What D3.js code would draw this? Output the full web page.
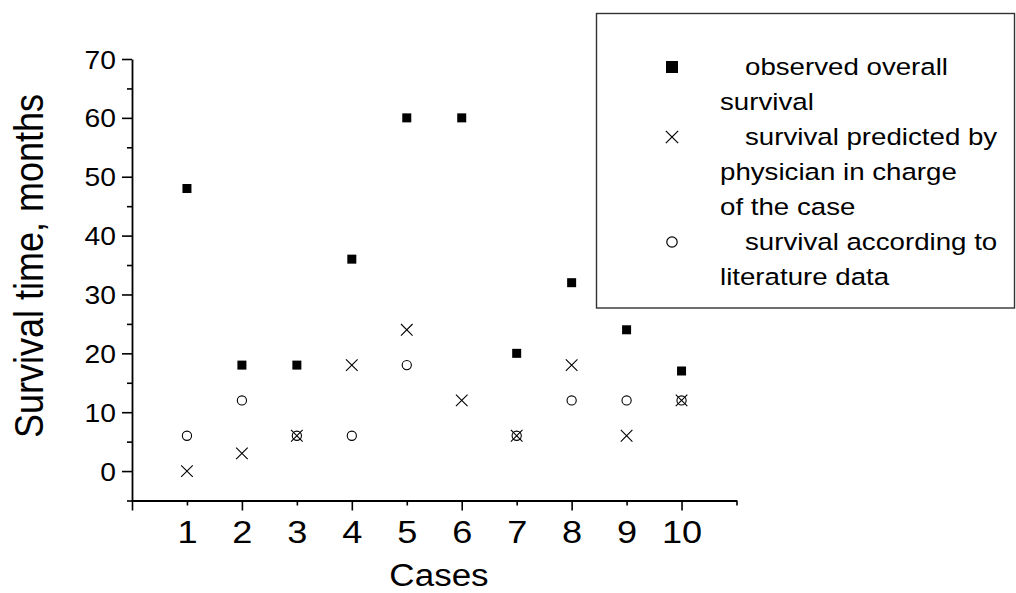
<!DOCTYPE html>
<html>
<head>
<meta charset="utf-8">
<script src="https://cdn.jsdelivr.net/npm/d3@7"></script>
<style>
  html, body { margin: 0; padding: 0; background: #fff; }
  svg { display: block; }
  text { font-family: "Liberation Sans", Arial, sans-serif; fill: #000; }
</style>
</head>
<body>
<svg id="chart" width="1016" height="593"></svg>
<script>
// ---- data ----
const cases = [1, 2, 3, 4, 5, 6, 7, 8, 9, 10];
const observed = [48, 18, 18, 36, 60, 60, 20, 32, 24, 17];
const predicted = [0, 3, 6, 18, 24, 12, 6, 18, 6, 12];
const literature = [6, 12, 6, 6, 18, null, 6, 12, 12, 12];
const xTicks = [0, 1, 2, 3, 4, 5, 6, 7, 8, 9, 10, 11];
const yTicks = [-5, 0, 5, 10, 15, 20, 25, 30, 35, 40, 45, 50, 55, 60, 65, 70];
const legendLines = [
  { text: "observed overall", first: true, symbol: "square" },
  { text: "survival", first: false },
  { text: "survival predicted by", first: true, symbol: "cross" },
  { text: "physician in charge", first: false },
  { text: "of the case", first: false },
  { text: "survival according to", first: true, symbol: "circle" },
  { text: "literature data", first: false }
];
const xTitle = "Cases";
const yTitle = "Survival time, months";

// ---- layout ----
const SX = 1.13; // horizontal text stretch
const svg = d3.select("#chart");
const x = d3.scaleLinear().domain([0, 11]).range([132, 736.5]);
const y = d3.scaleLinear().domain([-5, 70]).range([500.5, 59]);

// X axis
const xAxis = d3.axisBottom(x)
  .tickValues(xTicks)
  .tickSizeOuter(0)
  .tickFormat(d => (d >= 1 && d <= 10) ? d : "");
const gx = svg.append("g").attr("transform", `translate(0,${y(-5)})`).call(xAxis);
gx.select(".domain").attr("stroke", "#000").attr("stroke-width", 1.8);
gx.selectAll(".tick line").attr("stroke", "#000").attr("stroke-width", 1.6)
  .attr("y2", d => d % 2 === 0 ? 10 : 5);
gx.selectAll(".tick text")
  .attr("y", null).attr("dy", null)
  .attr("transform", `translate(0,42) scale(${SX},1)`)
  .style("font-size", "32px")
  .attr("fill", "#000");

// Y axis
const yAxis = d3.axisLeft(y)
  .tickValues(yTicks)
  .tickSizeOuter(0)
  .tickFormat(d => (d >= 0 && d % 10 === 0) ? d : "");
const gy = svg.append("g").attr("transform", `translate(${x(0)},0)`).call(yAxis);
gy.select(".domain").attr("stroke", "#000").attr("stroke-width", 1.8);
gy.selectAll(".tick line").attr("stroke", "#000").attr("stroke-width", 1.6)
  .attr("x2", d => d % 10 === 0 ? -10 : -5);
gy.selectAll(".tick text")
  .attr("x", null).attr("dy", null)
  .attr("transform", `translate(-16,9) scale(${SX},1)`)
  .attr("text-anchor", "end")
  .style("font-size", "25px")
  .attr("fill", "#000");

// Axis titles
svg.append("text")
  .attr("transform", `translate(439,586) scale(${SX},1)`)
  .attr("text-anchor", "middle")
  .style("font-size", "31px")
  .text(xTitle);
svg.append("text")
  .attr("transform", `translate(43,266) rotate(-90) scale(1,${SX})`)
  .attr("text-anchor", "middle")
  .style("font-size", "36px")
  .text(yTitle);

// ---- markers ----
const plot = svg.append("g");
const sq = 9, cr = 5.8, cir = 4.6;
plot.selectAll("rect.obs")
  .data(cases.map((c, i) => ({ c, v: observed[i] })).filter(d => d.v != null))
  .join("rect")
  .attr("x", d => x(d.c) - sq / 2).attr("y", d => y(d.v) - sq / 2)
  .attr("width", sq).attr("height", sq)
  .attr("fill", "#000");
plot.selectAll("path.pred")
  .data(cases.map((c, i) => ({ c, v: predicted[i] })).filter(d => d.v != null))
  .join("path")
  .attr("d", d => {
    const px = x(d.c), py = y(d.v);
    return `M${px - cr},${py - cr}L${px + cr},${py + cr}M${px - cr},${py + cr}L${px + cr},${py - cr}`;
  })
  .attr("stroke", "#000").attr("stroke-width", 1.1).attr("fill", "none");
plot.selectAll("circle.lit")
  .data(cases.map((c, i) => ({ c, v: literature[i] })).filter(d => d.v != null))
  .join("circle")
  .attr("cx", d => x(d.c)).attr("cy", d => y(d.v)).attr("r", cir)
  .attr("stroke", "#000").attr("stroke-width", 1.1).attr("fill", "none");

// ---- legend ----
const lg = svg.append("g");
lg.append("rect")
  .attr("x", 596.5).attr("y", 13.5).attr("width", 418).attr("height", 294.5)
  .attr("fill", "#fff").attr("stroke", "#333").attr("stroke-width", 1.4);
const base0 = 75, step = 35, symX = 672;
legendLines.forEach((l, i) => {
  const by = base0 + i * step;
  lg.append("text")
    .attr("transform", `translate(${l.first ? 745 : 720},${by}) scale(${SX},1)`)
    .style("font-size", "24.5px")
    .text(l.text);
  const cy = by - 8;
  if (l.symbol === "square") {
    lg.append("rect").attr("x", symX - 6).attr("y", cy - 6).attr("width", 12).attr("height", 12).attr("fill", "#000");
  } else if (l.symbol === "cross") {
    const r = 6.2;
    lg.append("path")
      .attr("d", `M${symX - r},${cy - r}L${symX + r},${cy + r}M${symX - r},${cy + r}L${symX + r},${cy - r}`)
      .attr("stroke", "#000").attr("stroke-width", 1.2).attr("fill", "none");
  } else if (l.symbol === "circle") {
    lg.append("circle").attr("cx", symX).attr("cy", cy).attr("r", 5.2)
      .attr("stroke", "#000").attr("stroke-width", 1.2).attr("fill", "none");
  }
});
</script>
</body>
</html>
